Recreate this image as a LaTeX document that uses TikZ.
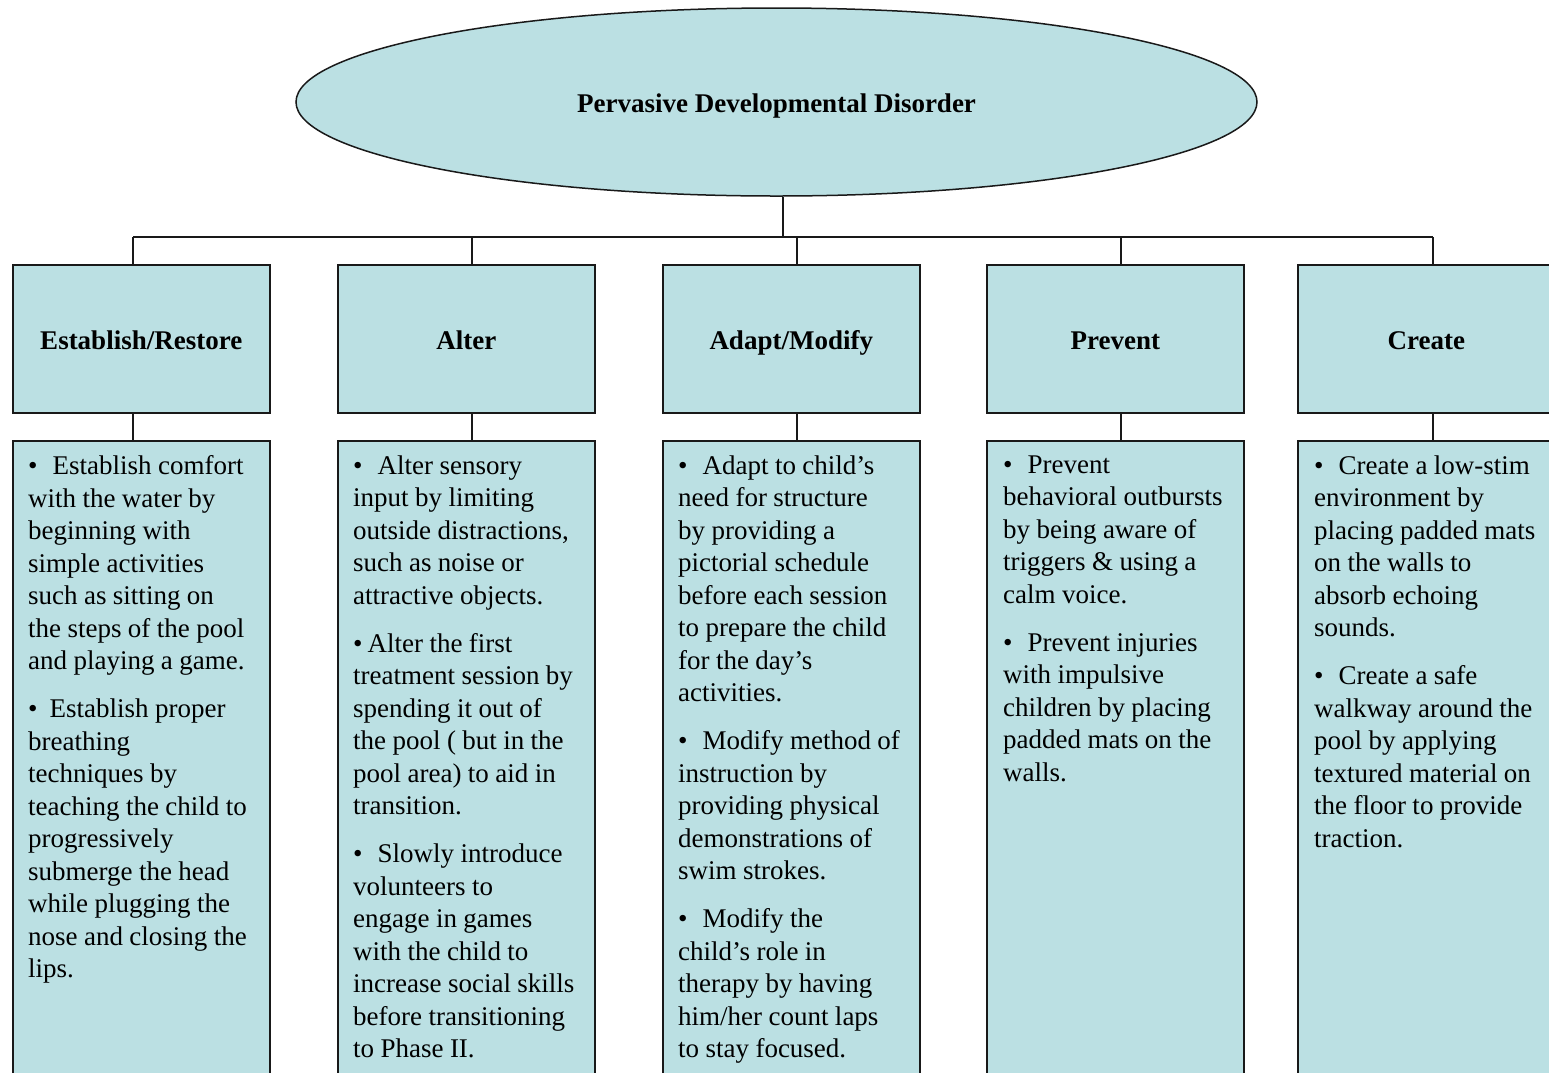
\documentclass[tikz,border=0pt]{standalone}
\usepackage{fontspec}
\setmainfont{Liberation Serif}
\usetikzlibrary{shapes.geometric}
\definecolor{boxfill}{RGB}{187,224,227}
\newcommand{\bb}{\textbullet\hspace{15pt}}
\newcommand{\bs}{\textbullet\hspace{5pt}}
\newcommand{\tightsp}{\spaceskip=6.4pt plus 0pt minus 0.5pt\relax}
\tikzset{
  base/.style={draw=black!90, fill=boxfill, line width=1.5pt},
  head/.style={base, rectangle, minimum width=257pt, minimum height=148pt, inner sep=0pt,
    text height=22pt, text depth=0pt,
    font=\fontsize{27}{32.5}\selectfont\bfseries, anchor=north west},
  body/.style={base, rectangle, minimum width=257pt, minimum height=650pt, inner sep=0pt, anchor=north west},
  txt/.style={anchor=north west, inner sep=0pt, text width=250pt, align=left,
    font=\fontsize{27}{32.5}\selectfont, execute at begin node=\tightsp},
  conn/.style={draw=black!90, line width=1.5pt},
}
\begin{document}
\begin{tikzpicture}[x=1pt,y=-1pt]
\begin{scope}
\clip (0,0) rectangle (1549,1072);
\fill[white] (0,0) rectangle (1549,1072);
% top ellipse
\node[base, ellipse, minimum width=961pt, minimum height=188pt, inner sep=0pt,
  text height=20pt, text depth=0pt,
  font=\fontsize{27}{32.5}\selectfont\bfseries] (top) at (776.5,102) {Pervasive Developmental Disorder};
% junctions
\coordinate (j) at (783,237);
\coordinate (c1) at (133,237);
\coordinate (c2) at (472,237);
\coordinate (c3) at (797,237);
\coordinate (c4) at (1121,237);
\coordinate (c5) at (1433,237);
% header boxes
\node[head] (h1) at (12,264) {Establish/Restore};
\node[head] (h2) at (337,264) {Alter};
\node[head] (h3) at (662,264) {Adapt/Modify};
\node[head] (h4) at (986,264) {Prevent};
\node[head] (h5) at (1297,264) {Create};
% body boxes
\node[body] (b1) at (12,440) {};
\node[body] (b2) at (337,440) {};
\node[body] (b3) at (662,440) {};
\node[body] (b4) at (986,440) {};
\node[body] (b5) at (1297,440) {};
% connectors
\draw[conn] (top.south -| j) -- (j);
\draw[conn] (c1) -- (c5);
\foreach \i in {1,...,5}{
  \draw[conn] (c\i) -- (c\i |- h\i.north);
  \draw[conn] (h\i.south -| c\i) -- (b\i.north -| c\i);
}
% texts
\node[txt] (t1) at (28,455.5) {\bb Establish comfort\\ with the water by\\ beginning with\\ simple activities\\ such as sitting on\\ the steps of the pool\\ and playing a game.\\[15.5pt]
\textbullet\hspace{12pt}Establish proper\\ breathing\\ techniques by\\ teaching the child to\\ progressively\\ submerge the head\\ while plugging the\\ nose and closing the\\ lips.};
\node[txt] (t2) at (353,455.5) {\bb Alter sensory\\ input by limiting\\ outside distractions,\\ such as noise or\\ attractive objects.\\[15.5pt]
\bs Alter the first\\ treatment session by\\ spending it out of\\ the pool ( but in the\\ pool area) to aid in\\ transition.\\[15.5pt]
\bb Slowly introduce\\ volunteers to\\ engage in games\\ with the child to\\ increase social skills\\ before transitioning\\ to Phase II.};
\node[txt] (t3) at (678,455.5) {\bb Adapt to child’s\\ need for structure\\ by providing a\\ pictorial schedule\\ before each session\\ to prepare the child\\ for the day’s\\ activities.\\[15.5pt]
\bb Modify method of\\ instruction by\\ providing physical\\ demonstrations of\\ swim strokes.\\[15.5pt]
\bb Modify the\\ child’s role in\\ therapy by having\\ him/her count laps\\ to stay focused.};
\node[txt] (t4) at (1003,455.5) {\bb Prevent\\ behavioral outbursts\\ by being aware of\\ triggers \& using a\\ calm voice.\\[15.5pt]
\bb Prevent injuries\\ with impulsive\\ children by placing\\ padded mats on the\\ walls.};
\node[txt] (t5) at (1314,455.5) {\bb Create a low-stim\\ environment by\\ placing padded mats\\ on the walls to\\ absorb echoing\\ sounds.\\[15.5pt]
\bb Create a safe\\ walkway around the\\ pool by applying\\ textured material on\\ the floor to provide\\ traction.};
\end{scope}
\pgfresetboundingbox
\useasboundingbox (0,0) rectangle (1549,1072);
\end{tikzpicture}
\end{document}
